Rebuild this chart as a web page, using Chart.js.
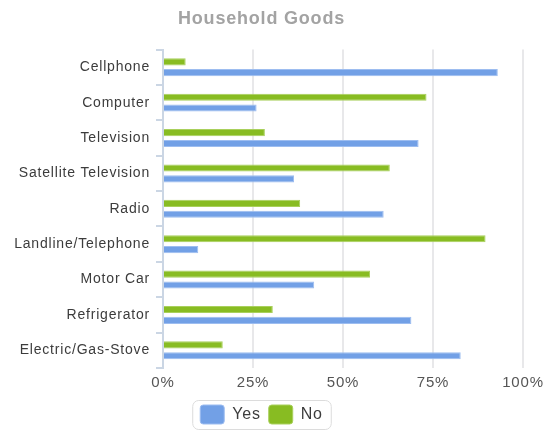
<!DOCTYPE html>
<html>
<head>
<meta charset="utf-8">
<script src="https://cdn.jsdelivr.net/npm/chart.js@4/dist/chart.umd.min.js"></script>
<style>
  html, body { margin: 0; padding: 0; background: #fff; }
  #wrap { width: 556px; height: 431px; position: relative; }
</style>
</head>
<body>
<div id="wrap"><canvas id="goodsChart"></canvas></div>
<script>
const categories = ['Cellphone', 'Computer', 'Television', 'Satellite Television', 'Radio',
    'Landline/Telephone', 'Motor Car', 'Refrigerator', 'Electric/Gas-Stove'];
const yesValues = [93, 26, 71, 36.4, 61.3, 9.8, 42, 69, 82.7];
const noValues = [6.3, 73.2, 28.3, 63, 38.1, 89.6, 57.5, 30.5, 16.6];
const xTicks = [0, 25, 50, 75, 100];

// slightly wider text spacing; canvas resets clear it, so set it before layout and draw
const spacing = {
    id: 'spacing',
    beforeLayout(chart) { chart.ctx.letterSpacing = '0.8px'; },
    beforeDraw(chart) { chart.ctx.letterSpacing = '0.8px'; }
};

// rounded frame around the legend items
const legendFrame = {
    id: 'legendFrame',
    afterDraw(chart) {
        const boxes = chart.legend && chart.legend.legendHitBoxes;
        if (!boxes || !boxes.length) return;
        const left = Math.min(...boxes.map(b => b.left)) - 8;
        const right = Math.max(...boxes.map(b => b.left + b.width)) + 8;
        const top = Math.min(...boxes.map(b => b.top)) - 5;
        const bottom = Math.max(...boxes.map(b => b.top + b.height)) + 5;
        const ctx = chart.ctx;
        ctx.save();
        ctx.strokeStyle = '#dcdcdc';
        ctx.lineWidth = 1;
        ctx.beginPath();
        ctx.roundRect(left + 0.5, top + 0.5, right - left, bottom - top, 6);
        ctx.stroke();
        ctx.restore();
    }
};

new Chart(document.getElementById('goodsChart'), {
    type: 'bar',
    data: {
        labels: categories,
        datasets: [{
            label: 'No',
            data: noValues,
            backgroundColor: '#88bc22',
            borderColor: '#a9d05c',
            borderWidth: 1,
            categoryPercentage: 0.61,
            barPercentage: 0.66
        }, {
            label: 'Yes',
            data: yesValues,
            backgroundColor: '#72a0e6',
            borderColor: '#9dbdf0',
            borderWidth: 1,
            categoryPercentage: 0.61,
            barPercentage: 0.66
        }]
    },
    options: {
        indexAxis: 'y',
        responsive: true,
        maintainAspectRatio: false,
        animation: false,
        layout: {
            padding: { left: 0, right: 33, top: 0, bottom: 0 }
        },
        scales: {
            x: {
                min: 0,
                max: 100,
                afterBuildTicks(scale) {
                    scale.ticks = xTicks.map(v => ({ value: v }));
                },
                grid: { color: '#e8e8ea', lineWidth: 2, drawTicks: false },
                border: { display: false },
                ticks: {
                    padding: 7,
                    color: '#555',
                    font: { family: '"Liberation Sans", Arial, sans-serif', size: 15, lineHeight: 1 },
                    callback: v => v + '%'
                }
            },
            y: {
                afterFit(scale) { scale.width = 163; },
                grid: { drawOnChartArea: false, tickLength: 7, color: '#cbd6e4', lineWidth: 2 },
                border: { color: '#cbd6e4', width: 2 },
                ticks: {
                    padding: 6,
                    color: '#3c3c3c',
                    font: { family: '"Liberation Sans", Arial, sans-serif', size: 14 }
                }
            }
        },
        plugins: {
            title: {
                display: true,
                text: 'Household Goods',
                color: '#a3a3a3',
                font: { family: '"Liberation Sans", Arial, sans-serif', size: 18, weight: 'bold' },
                padding: { top: 8, bottom: 20 }
            },
            legend: {
                position: 'bottom',
                maxHeight: 34,
                labels: {
                    boxWidth: 24,
                    boxHeight: 19,
                    useBorderRadius: true,
                    borderRadius: 3,
                    padding: 8,
                    color: '#3c3c3c',
                    font: { family: '"Liberation Sans", Arial, sans-serif', size: 16 },
                    sort: (a, b) => b.datasetIndex - a.datasetIndex
                }
            },
            tooltip: { enabled: false }
        }
    },
    plugins: [spacing, legendFrame]
});
</script>
</body>
</html>
